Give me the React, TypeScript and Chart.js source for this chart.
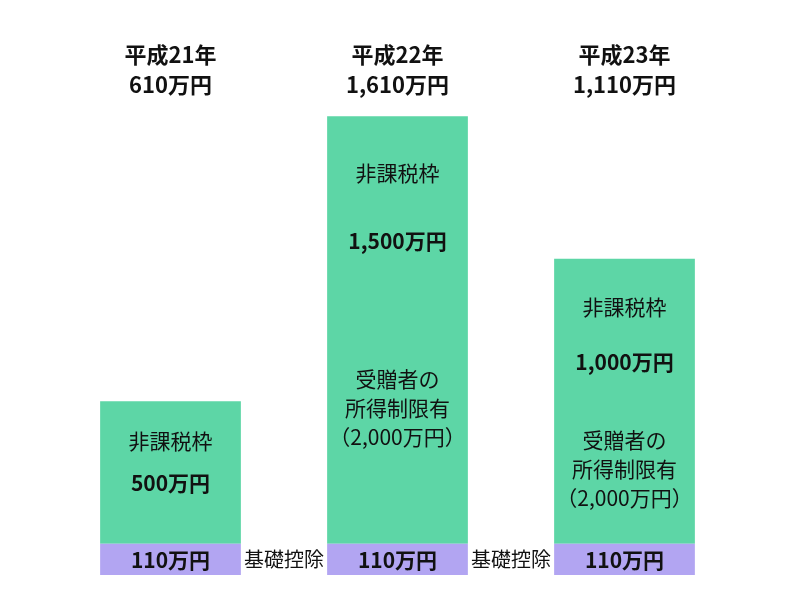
import React, { useEffect, useRef } from "react";
import { Chart, registerables } from "chart.js";

Chart.register(...registerables);

const years = ["平成21年", "平成22年", "平成23年"];
const baseDeduction = [110, 110, 110];
const taxFreeLimit = [500, 1500, 1000];
const incomeLimitNote = [false, true, true];
const baseLabel = "基礎控除";
const limitLabel = "非課税枠";
const noteLines = ["受贈者の", "所得制限有", "（2,000万円）"];

const GREEN = "#5DD6A6";
const PURPLE = "#B2A5F2";
const FONT = "'Noto Sans CJK JP', 'Noto Sans', sans-serif";

const fmt = (v: number) => v.toLocaleString("en-US") + "万円";

const textPlugin = {
  id: "barTexts",
  afterDatasetsDraw(chart: any) {
    const ctx = chart.ctx;
    const baseMeta = chart.getDatasetMeta(0);
    const limitMeta = chart.getDatasetMeta(1);
    ctx.save();
    ctx.textAlign = "center";
    ctx.textBaseline = "middle";
    ctx.fillStyle = "#111";
    baseMeta.data.forEach((bar: any, i: number) => {
      const cx = bar.x;
      const by = (bar.y + bar.base) / 2;
      ctx.font = `bold 21px ${FONT}`;
      ctx.fillText(fmt(baseDeduction[i]), cx, by + 1);
      if (i < baseMeta.data.length - 1) {
        const next = baseMeta.data[i + 1];
        const gx = (bar.x + bar.width / 2 + next.x - next.width / 2) / 2;
        ctx.font = `20px ${FONT}`;
        ctx.fillText(baseLabel, gx, by);
      }
      const g = limitMeta.data[i];
      const top = g.y;
      const bottom = g.base;
      const h = bottom - top;
      const titleY = top + 40 + Math.max(0, h - 142) * 0.06;
      const amountY = titleY + 42 + Math.max(0, h - 142) * 0.09;
      ctx.font = `21px ${FONT}`;
      ctx.fillText(limitLabel, cx, titleY);
      ctx.font = `bold 21px ${FONT}`;
      ctx.fillText(fmt(taxFreeLimit[i]), cx, amountY);
      if (incomeLimitNote[i]) {
        const mid = (amountY + bottom) / 2 + 16;
        ctx.font = `21px ${FONT}`;
        noteLines.forEach((line, k) => {
          ctx.fillText(line, cx, mid + (k - 1) * 29);
        });
      }
    });
    ctx.restore();
  },
};

export default function App() {
  const canvasRef = useRef<HTMLCanvasElement | null>(null);

  useEffect(() => {
    document.body.style.margin = "0";
    const totals = years.map((_, i) => baseDeduction[i] + taxFreeLimit[i]);
    const chart = new Chart(canvasRef.current!, {
      type: "bar",
      data: {
        labels: years.map((y, i) => [y, fmt(totals[i])]),
        datasets: [
          {
            label: baseLabel,
            data: baseDeduction,
            backgroundColor: PURPLE,
            borderWidth: 0,
            barPercentage: 0.62,
            categoryPercentage: 1,
          },
          {
            label: limitLabel,
            data: taxFreeLimit,
            backgroundColor: GREEN,
            borderWidth: 0,
            barPercentage: 0.62,
            categoryPercentage: 1,
          },
        ],
      },
      options: {
        animation: false,
        responsive: false,
        layout: { padding: { top: 35, bottom: 25, left: 57, right: 62 } },
        plugins: { legend: { display: false }, tooltip: { enabled: false } },
        scales: {
          x: {
            position: "top",
            stacked: true,
            grid: { display: false, drawTicks: false },
            border: { display: false },
            ticks: {
              padding: 5,
              color: "#111",
              font: { family: FONT, size: 22, weight: "bold", lineHeight: 1.36 },
            },
          },
          y: {
            stacked: true,
            display: false,
            min: 0,
            max: 1650,
          },
        },
      },
      plugins: [textPlugin],
    });
    return () => chart.destroy();
  }, []);

  return (
    <div style={{ width: 800, height: 600, background: "#fff" }}>
      <canvas ref={canvasRef} width={800} height={600} style={{ display: "block" }} />
    </div>
  );
}
